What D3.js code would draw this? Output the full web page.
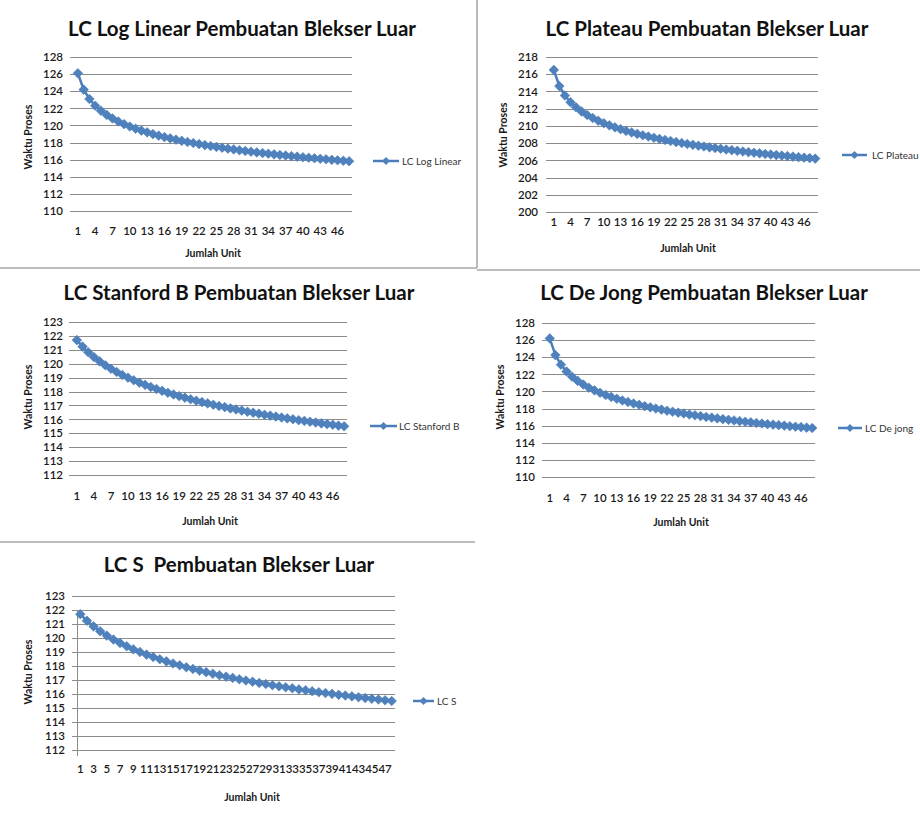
<!DOCTYPE html>
<html>
<head>
<meta charset="utf-8">
<script src="https://cdn.jsdelivr.net/npm/d3@7"></script>
<style>
  html, body { margin: 0; padding: 0; background: #fff; }
  svg { display: block; }
</style>
</head>
<body>
<svg id="sheet" width="920" height="814"></svg>
<script>
// Unit numbers (categories) shared by all five learning-curve charts
const units = [1,2,3,4,5,6,7,8,9,10,11,12,13,14,15,16,17,18,19,20,21,22,23,24,
               25,26,27,28,29,30,31,32,33,34,35,36,37,38,39,40,41,42,43,44,45,46,47,48];

// Category labels that are printed on the horizontal axes
const xLabelsStep3 = [1,4,7,10,13,16,19,22,25,28,31,34,37,40,43,46];
const xLabelsStep2 = [1,3,5,7,9,11,13,15,17,19,21,23,25,27,29,31,33,35,37,39,41,43,45,47];

// Value-axis ticks
const yTicksLogLinear = [110,112,114,116,118,120,122,124,126,128];
const yTicksPlateau   = [200,202,204,206,208,210,212,214,216,218];
const yTicksStanford  = [112,113,114,115,116,117,118,119,120,121,122,123];
const yTicksDeJong    = [110,112,114,116,118,120,122,124,126,128];
const yTicksS         = [112,113,114,115,116,117,118,119,120,121,122,123];

// Process time per unit (Waktu Proses)
const logLinear = [126.10,124.19,123.09,122.31,121.71,121.23,120.82,120.46,120.15,119.87,
                   119.62,119.40,119.19,118.99,118.81,118.64,118.49,118.34,118.20,118.06,
                   117.94,117.82,117.70,117.59,117.49,117.39,117.29,117.20,117.10,117.02,
                   116.93,116.85,116.77,116.70,116.62,116.55,116.48,116.41,116.35,116.28,
                   116.22,116.16,116.10,116.04,115.98,115.93,115.87,115.82];
const plateau   = [216.50,214.62,213.53,212.75,212.16,211.67,211.26,210.91,210.59,210.31,
                   210.06,209.83,209.62,209.42,209.24,209.07,208.91,208.76,208.62,208.49,
                   208.36,208.24,208.12,208.01,207.90,207.80,207.70,207.61,207.51,207.43,
                   207.34,207.26,207.18,207.10,207.02,206.95,206.88,206.81,206.74,206.68,
                   206.61,206.55,206.49,206.43,206.37,206.31,206.26,206.20];
const stanfordB = [121.70,121.23,120.83,120.48,120.17,119.89,119.64,119.41,119.19,119.00,
                   118.81,118.64,118.48,118.33,118.18,118.05,117.91,117.79,117.67,117.56,
                   117.45,117.34,117.24,117.15,117.05,116.96,116.88,116.79,116.71,116.63,
                   116.55,116.48,116.41,116.33,116.27,116.20,116.13,116.07,116.01,115.94,
                   115.89,115.83,115.77,115.71,115.66,115.61,115.55,115.50];
const deJong    = [126.20,124.25,123.13,122.33,121.72,121.23,120.81,120.44,120.13,119.84,
                   119.59,119.36,119.15,118.95,118.76,118.59,118.44,118.28,118.14,118.00,
                   117.88,117.75,117.63,117.52,117.42,117.31,117.21,117.12,117.02,116.94,
                   116.85,116.76,116.68,116.61,116.53,116.46,116.39,116.32,116.25,116.18,
                   116.12,116.06,116.00,115.94,115.88,115.83,115.77,115.72];
const lcS       = [121.70,121.23,120.83,120.48,120.17,119.89,119.64,119.41,119.19,119.00,
                   118.81,118.64,118.48,118.33,118.18,118.05,117.91,117.79,117.67,117.56,
                   117.45,117.34,117.24,117.15,117.05,116.96,116.88,116.79,116.71,116.63,
                   116.55,116.48,116.41,116.33,116.27,116.20,116.13,116.07,116.01,115.94,
                   115.89,115.83,115.77,115.71,115.66,115.61,115.55,115.50];

// Panel definitions: series + where each chart sits on the sheet
const panels = [
  { title: "LC Log Linear Pembuatan Blekser Luar", legend: "LC Log Linear",
    values: logLinear, yTicks: yTicksLogLinear, xLabels: xLabelsStep3,
    plot: {l: 75, r: 352, t: 57, b: 211}, titlePos: [242, 36], yLabRight: 63, xLabY: 231,
    yTitle: [28, 137], xTitle: [213, 253], leg: {x1: 373, x2: 399, y: 161, tx: 402} },
  { title: "LC Plateau Pembuatan Blekser Luar", legend: "LC Plateau",
    values: plateau, yTicks: yTicksPlateau, xLabels: xLabelsStep3,
    plot: {l: 551, r: 818, t: 57, b: 212}, titlePos: [707, 36], yLabRight: 538, xLabY: 222,
    yTitle: [503, 135], xTitle: [688, 248], leg: {x1: 842, x2: 867, y: 155, tx: 872} },
  { title: "LC Stanford B Pembuatan Blekser Luar", legend: "LC Stanford B",
    values: stanfordB, yTicks: yTicksStanford, xLabels: xLabelsStep3,
    plot: {l: 74, r: 347, t: 322, b: 475}, titlePos: [239, 300], yLabRight: 63, xLabY: 496,
    yTitle: [28, 397], xTitle: [210, 521], leg: {x1: 370, x2: 397, y: 426, tx: 399} },
  { title: "LC De Jong Pembuatan Blekser Luar", legend: "LC De jong",
    values: deJong, yTicks: yTicksDeJong, xLabels: xLabelsStep3,
    plot: {l: 547, r: 815, t: 323, b: 477}, titlePos: [704, 300], yLabRight: 535, xLabY: 498,
    yTitle: [500, 397], xTitle: [681, 522], leg: {x1: 838, x2: 862, y: 428, tx: 865} },
  { title: "LC S  Pembuatan Blekser Luar", legend: "LC S",
    values: lcS, yTicks: yTicksS, xLabels: xLabelsStep2, axisLine: true,
    plot: {l: 77, r: 395, t: 596, b: 750}, titlePos: [239, 572], yLabRight: 65, xLabY: 769,
    yTitle: [28, 672], xTitle: [252, 797], leg: {x1: 413, x2: 434, y: 701, tx: 437} }
];

const FONT = "Lato, 'Open Sans', sans-serif";
const LINE = "#4a7ebb", MARK = "#4f81bd", GRID = "#8c8c8c", TEXT = "#1a1a1a";
const svg = d3.select("#sheet");

// Separator lines between the pasted charts
const frame = svg.append("g").attr("stroke", "#a6a6a6").attr("stroke-width", 1.5);
frame.append("line").attr("x1", 477).attr("y1", 0).attr("x2", 477).attr("y2", 268);
frame.append("line").attr("x1", 0).attr("y1", 268).attr("x2", 477).attr("y2", 268);
frame.append("line").attr("x1", 477).attr("y1", 270).attr("x2", 920).attr("y2", 270);
frame.append("line").attr("x1", 0).attr("y1", 542).attr("x2", 475).attr("y2", 542);

const diamond = r => `M0,${-r}L${r},0L0,${r}L${-r},0Z`;

panels.forEach(p => {
  const g = svg.append("g");
  const {l, r, t, b} = p.plot;
  const x = d3.scaleBand().domain(units).range([l, r]);
  const cx = u => x(u) + x.bandwidth() / 2;
  const y = d3.scaleLinear().domain(d3.extent(p.yTicks)).range([b, t]);

  // horizontal gridlines with short outside tick stubs
  g.append("g").selectAll("line").data(p.yTicks).join("line")
    .attr("x1", l - 5).attr("x2", r)
    .attr("y1", d => Math.round(y(d)) + 0.5).attr("y2", d => Math.round(y(d)) + 0.5)
    .attr("stroke", GRID).attr("stroke-width", 1);

  // value axis labels
  const ya = g.append("g").attr("transform", `translate(${l},0)`)
    .call(d3.axisLeft(y).tickValues(p.yTicks).tickSize(0).tickPadding(l - p.yLabRight));
  ya.select(".domain").remove();
  if (p.axisLine) {
    g.append("line").attr("x1", l + 0.5).attr("x2", l + 0.5).attr("y1", t + 14).attr("y2", b + 6)
      .attr("stroke", GRID).attr("stroke-width", 1);
  }

  // category axis labels
  const xa = g.append("g").attr("transform", `translate(0,${b})`)
    .call(d3.axisBottom(x).tickValues(p.xLabels).tickSize(0).tickPadding(p.xLabY - b - 4));
  xa.select(".domain").remove();

  [ya, xa].forEach(a => a.selectAll("text")
    .attr("font-family", FONT).attr("font-size", 11.5).attr("font-weight", 600).attr("fill", TEXT));

  // series line + diamond markers
  const line = d3.line().x((d, i) => cx(units[i])).y(d => y(d));
  g.append("path").datum(p.values).attr("d", line)
    .attr("fill", "none").attr("stroke", LINE).attr("stroke-width", 2.5);
  g.append("g").selectAll("path").data(p.values).join("path")
    .attr("transform", (d, i) => `translate(${cx(units[i])},${y(d)})`)
    .attr("d", diamond(4.8)).attr("fill", MARK).attr("stroke", LINE).attr("stroke-width", 0.6);

  // chart title
  g.append("text").attr("x", p.titlePos[0]).attr("y", p.titlePos[1])
    .attr("text-anchor", "middle").attr("font-family", FONT).attr("font-weight", 700)
    .attr("font-size", 20.5).attr("fill", "#111").style("white-space", "pre").text(p.title);

  // axis titles
  g.append("text").attr("transform", `translate(${p.yTitle[0]},${p.yTitle[1]}) rotate(-90)`)
    .attr("text-anchor", "middle").attr("dy", "0.35em").attr("font-family", FONT)
    .attr("font-weight", 700).attr("font-size", 10.5).attr("fill", TEXT).text("Waktu Proses");
  g.append("text").attr("x", p.xTitle[0]).attr("y", p.xTitle[1]).attr("dy", "0.35em")
    .attr("text-anchor", "middle").attr("font-family", FONT)
    .attr("font-weight", 700).attr("font-size", 10.5).attr("fill", TEXT).text("Jumlah Unit");

  // legend
  const lg = p.leg;
  g.append("line").attr("x1", lg.x1).attr("x2", lg.x2).attr("y1", lg.y).attr("y2", lg.y)
    .attr("stroke", LINE).attr("stroke-width", 2.5);
  g.append("path").attr("transform", `translate(${(lg.x1 + lg.x2) / 2},${lg.y})`)
    .attr("d", diamond(4)).attr("fill", MARK);
  g.append("text").attr("x", lg.tx).attr("y", lg.y).attr("dy", "0.35em")
    .attr("font-family", FONT).attr("font-size", 10).attr("fill", "#333").text(p.legend);
});
</script>
</body>
</html>
